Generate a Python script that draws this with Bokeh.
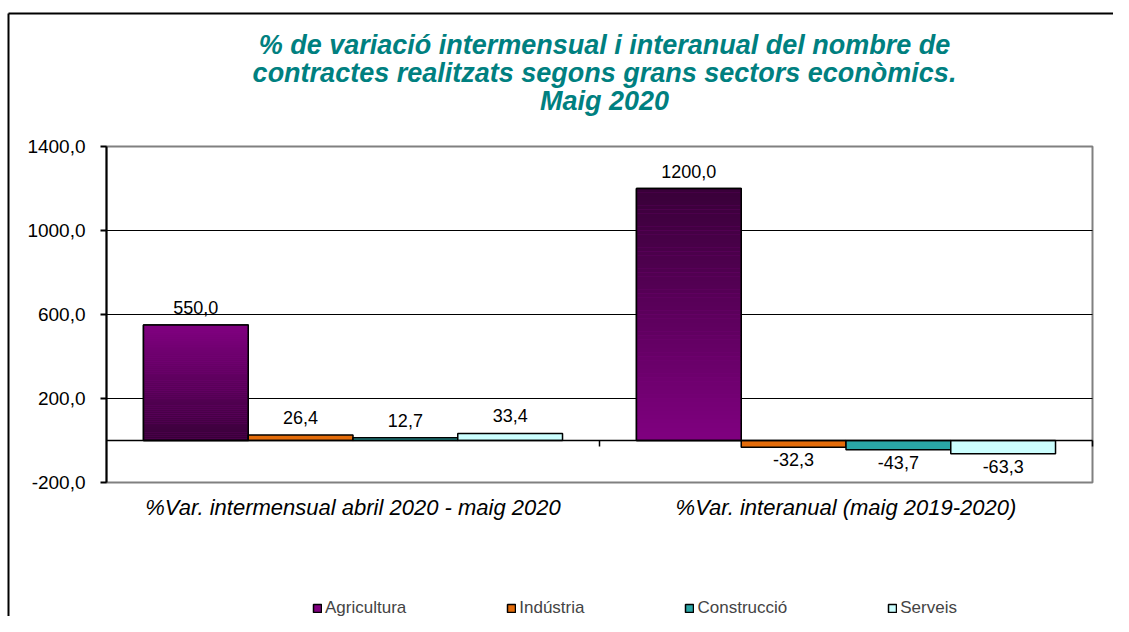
import numpy as np
from bokeh.plotting import figure
from bokeh.models import (ColumnDataSource, Range1d, FixedTicker, LinearAxis, Label,
                          LabelSet, Legend, LegendItem)
from bokeh.core.properties import value
from bokeh.embed import file_html
from bokeh.resources import INLINE

# ---------------- data ----------------
groups = ["%Var. intermensual abril 2020 - maig 2020",
          "%Var. interanual (maig 2019-2020)"]
sectors = ["Agricultura", "Indústria", "Construcció", "Serveis"]
agricultura = [550.0, 1200.0]
industria = [26.4, -32.3]
construccio = [12.7, -43.7]
serveis = [33.4, -63.3]
y_ticks = [-200, 200, 600, 1000, 1400]
title_lines = ["% de variació intermensual i interanual del nombre de",
               "contractes realitzats segons grans sectors econòmics.",
               "Maig 2020"]

# ---------------- style / layout ----------------
FONT = "Liberation Sans"
colors = ["#800080", "#e46c0a", "#2aa6a6", "#ccffff"]
agri_light = np.array([0x80, 0x00, 0x80])
agri_dark = np.array([0x38, 0x00, 0x38])
gradient_dark_at_base = [True, False]
bar_w = 0.2125
Y0, Y1 = y_ticks[0], y_ticks[-1]
NCAT = len(groups)

W, H = 1113, 616            # canvas size
ORIGIN = 0                  # canvas origin in picture pixels
PA_L, PA_R, PA_T, PA_B = 106, 1092, 146, 482   # plot area in picture pixels
ux = NCAT / (PA_R - PA_L)           # data units per px (x)
uy = (Y1 - Y0) / (PA_B - PA_T)      # data units per px (y)


def X(px):
    return (px - PA_L) * ux


def Y(py):
    return Y1 - (py - PA_T) * uy


p = figure(width=W, height=H, output_backend="svg", toolbar_location=None,
           x_range=Range1d(X(ORIGIN), X(ORIGIN + W)),
           y_range=Range1d(Y(ORIGIN + H), Y(ORIGIN)),
           x_axis_location=None, y_axis_location=None,
           min_border=0, min_border_left=0, min_border_right=0,
           min_border_top=0, min_border_bottom=0)
p.title.visible = False
p.background_fill_color = "white"
p.border_fill_color = "white"
p.outline_line_color = None
p.xgrid.visible = False
p.ygrid.visible = False

# outer chart border (left and top edges)
p.segment(x0=[X(8), X(8)], y0=[Y(13), Y(13)], x1=[X(8), X(1300)], y1=[Y(800), Y(13)],
          line_color="black", line_width=2)

# plot area: border and gridlines
p.quad(left=[0], right=[NCAT], bottom=[Y0], top=[Y1], fill_color=None,
       line_color="#808080", line_width=2)
inner = y_ticks[1:-1]
p.segment(x0=[0] * len(inner), x1=[NCAT] * len(inner), y0=inner, y1=inner,
          line_color="black", line_width=1)

# y axis
yax = LinearAxis(fixed_location=0, bounds=(Y0, Y1), ticker=FixedTicker(ticks=y_ticks))
yax.major_label_overrides = {t: f"{t:.1f}".replace(".", ",") for t in y_ticks}
yax.major_tick_out = 6
yax.major_tick_in = 0
yax.minor_tick_line_color = None
yax.axis_line_width = 2
yax.major_tick_line_width = 2
yax.major_label_standoff = 15
yax.major_label_text_font = FONT
yax.major_label_text_font_size = "19px"
yax.major_label_text_color = "black"
p.add_layout(yax, "left")

# category axis
cat_centers = [i + 0.5 for i in range(NCAT)]
xax = LinearAxis(fixed_location=Y0, bounds=(0, NCAT), ticker=FixedTicker(ticks=cat_centers))
xax.major_label_overrides = {c: g for c, g in zip(cat_centers, groups)}
xax.major_tick_line_color = None
xax.minor_tick_line_color = None
xax.axis_line_color = None
xax.major_label_standoff = 6
xax.major_label_text_font = FONT
xax.major_label_text_font_style = "italic"
xax.major_label_text_font_size = "22px"
xax.major_label_text_color = "black"
p.add_layout(xax, "below")

# ---------------- bars ----------------
series = [agricultura, industria, construccio, serveis]
legend_items = []
label_pos = {"x": [], "y": [], "t": []}
label_neg = {"x": [], "y": [], "t": []}
for j, (name, vals, col) in enumerate(zip(sectors, series, colors)):
    xs = np.array([c + (j - 1.5) * bar_w for c in cat_centers])
    vals = np.array(vals)
    src = ColumnDataSource(dict(left=xs - bar_w / 2, right=xs + bar_w / 2,
                                top=np.maximum(vals, 0), bottom=np.minimum(vals, 0)))
    r = p.quad(left="left", right="right", top="top", bottom="bottom", source=src,
               fill_color=col, line_color="black", line_width=1.5)
    legend_items.append(LegendItem(label=name, renderers=[r]))
    if j == 0:
        # gradient fill for Agricultura
        n = 60
        L, R, B, T, C = [], [], [], [], []
        for k, v in enumerate(vals):
            edges = np.linspace(0, v, n + 1)
            for s in range(n):
                t = (s + 0.5) / n
                if gradient_dark_at_base[k]:
                    rgb = agri_dark + (agri_light - agri_dark) * t
                else:
                    rgb = agri_light + (agri_dark - agri_light) * t
                L.append(xs[k] - bar_w / 2)
                R.append(xs[k] + bar_w / 2)
                B.append(min(edges[s], edges[s + 1]))
                T.append(max(edges[s], edges[s + 1]))
                C.append("#%02x%02x%02x" % tuple(int(round(c)) for c in rgb))
        p.quad(left=L, right=R, bottom=B, top=T, fill_color=C, line_color=None)
        p.quad(left="left", right="right", top="top", bottom="bottom", source=src,
               fill_color=None, line_color="black", line_width=1.5)
    for x, v in zip(xs, vals):
        d = label_pos if v >= 0 else label_neg
        d["x"].append(x)
        d["y"].append(v)
        d["t"].append(f"{v:.1f}".replace(".", ","))

# zero line (category axis) and category separators
p.segment(x0=[0], x1=[NCAT], y0=[0], y1=[0], line_color="black", line_width=1.5)
sep_x = [float(i) for i in range(1, NCAT + 1)]
p.segment(x0=sep_x, y0=[0] * len(sep_x), x1=sep_x, y1=[-6 * uy] * len(sep_x),
          line_color="black", line_width=1.5)

# value labels
p.add_layout(LabelSet(x="x", y="y", text="t", source=ColumnDataSource(label_pos),
                      text_align="center", text_baseline="bottom", y_offset=11,
                      text_font=value(FONT), text_font_size="18px", text_color="black"))
p.add_layout(LabelSet(x="x", y="y", text="t", source=ColumnDataSource(label_neg),
                      text_align="center", text_baseline="top", y_offset=-6,
                      text_font=value(FONT), text_font_size="18px", text_color="black"))

# title
for line, row in zip(title_lines, [44, 72, 100]):
    p.add_layout(Label(x=X(604), y=Y(row), text=line, text_align="center",
                       text_baseline="middle", text_font=FONT,
                       text_font_style="bold italic", text_font_size="27px",
                       text_color="#008080"))

# legend
legend = Legend(items=legend_items, orientation="horizontal",
                location=(312 - ORIGIN, (ORIGIN + H) - 618), padding=0, margin=0,
                spacing=100, glyph_width=10, glyph_height=10, label_standoff=3,
                label_height=18, label_text_font=FONT, label_text_font_size="17px",
                border_line_color=None, background_fill_alpha=0)
p.add_layout(legend, "center")

open("out.html", "w").write(file_html(p, INLINE))
